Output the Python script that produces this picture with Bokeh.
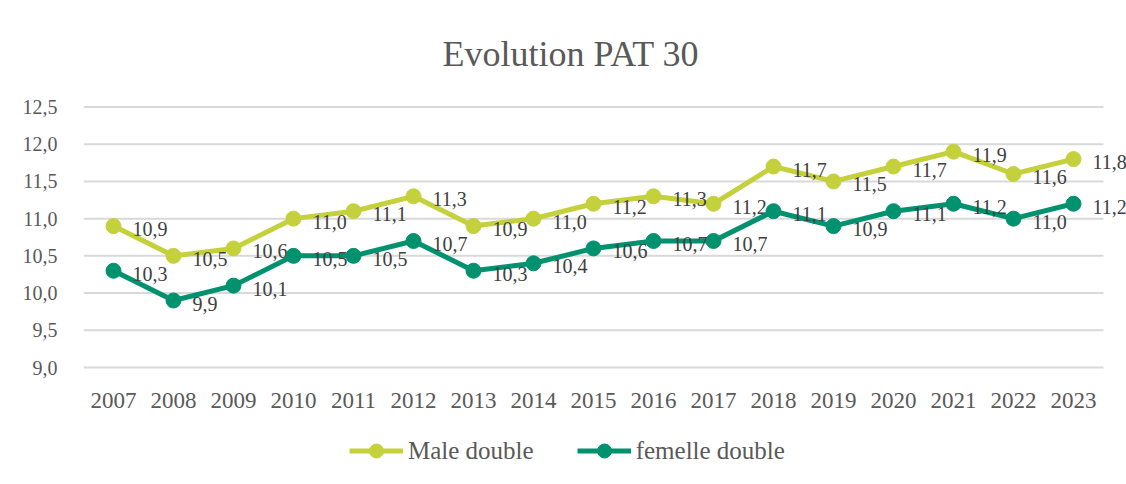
from bokeh.plotting import figure
from bokeh.models import (Range1d, FixedTicker, CustomJSTickFormatter,
                          Legend, LegendItem, ColumnDataSource)
from bokeh.core.properties import value
from bokeh.embed import file_html
from bokeh.resources import INLINE

years = ["2007", "2008", "2009", "2010", "2011", "2012", "2013", "2014", "2015",
         "2016", "2017", "2018", "2019", "2020", "2021", "2022", "2023"]
male = [10.9, 10.5, 10.6, 11.0, 11.1, 11.3, 10.9, 11.0, 11.2, 11.3, 11.2,
        11.7, 11.5, 11.7, 11.9, 11.6, 11.8]
femelle = [10.3, 9.9, 10.1, 10.5, 10.5, 10.7, 10.3, 10.4, 10.6, 10.7, 10.7,
           11.1, 10.9, 11.1, 11.2, 11.0, 11.2]
y_ticks = [9.0, 9.5, 10.0, 10.5, 11.0, 11.5, 12.0, 12.5]
series_names = ["Male double", "femelle double"]
title_text = "Evolution PAT 30"

MALE_COLOR = "#C5D13C"
FEM_COLOR = "#00926F"
TEXT_COLOR = "#595959"
LABEL_COLOR = "#404040"
GRID_COLOR = "#D9D9D9"
FONT = "Liberation Serif"

W, H = 1126, 484
LEFT, TOP = 83, 104
PX_PER_CAT = 60.0
y_lo_px, y_hi_px = 367.0, 106.5          # screen rows of first / last y tick
px_per_unit = (y_lo_px - y_hi_px) / (y_ticks[-1] - y_ticks[0])

n = len(years)
idx = list(range(n))
x_end = -0.5 + (W - LEFT) / PX_PER_CAT
y_start = y_ticks[0] - (H - y_lo_px) / px_per_unit
y_end = y_ticks[-1] + (y_hi_px - TOP) / px_per_unit

p = figure(width=W, height=H, output_backend="svg", toolbar_location=None,
           x_range=Range1d(-0.5, x_end), y_range=Range1d(y_start, y_end),
           min_border_left=LEFT, min_border_right=0, min_border_top=TOP,
           min_border_bottom=0)

p.title.text = title_text
p.title.align = "left"
p.title.offset = 359
p.title.text_font = FONT
p.title.text_font_size = "36px"
p.title.text_font_style = "normal"
p.title.text_color = TEXT_COLOR
p.title.standoff = 62

p.outline_line_color = None
p.xgrid.grid_line_color = None
p.ygrid.grid_line_color = None

# horizontal grid lines spanning the category area only
p.segment(x0=[-0.5] * len(y_ticks), x1=[n - 0.5] * len(y_ticks),
          y0=y_ticks, y1=y_ticks, line_color=GRID_COLOR, line_width=2)

p.yaxis.ticker = FixedTicker(ticks=y_ticks)
p.yaxis.formatter = CustomJSTickFormatter(code="return tick.toFixed(1).replace('.', ',');")
p.xaxis.ticker = FixedTicker(ticks=idx)
p.xaxis.major_label_overrides = {i: y for i, y in zip(idx, years)}
p.xaxis.fixed_location = y_ticks[0]
for ax in (p.xaxis[0], p.yaxis[0]):
    ax.axis_line_color = None
    ax.major_tick_line_color = None
    ax.minor_tick_line_color = None
    ax.major_label_text_font = FONT
    ax.major_label_text_color = TEXT_COLOR
p.yaxis.major_label_text_font_size = "20px"
p.xaxis.major_label_text_font_size = "23px"
p.yaxis.major_label_standoff = 20
p.xaxis.major_label_standoff = 19

items = []
for name, vals, col in ((series_names[0], male, MALE_COLOR),
                        (series_names[1], femelle, FEM_COLOR)):
    src = ColumnDataSource(dict(x=idx, y=vals,
                                lab=[f"{v:.1f}".replace(".", ",") for v in vals]))
    r1 = p.line("x", "y", source=src, line_color=col, line_width=5, line_join="round")
    r2 = p.scatter("x", "y", source=src, size=15, fill_color=col, line_color=col)
    p.text("x", "y", text="lab", source=src, x_offset=19, y_offset=3,
           text_font=value(FONT), text_font_size="20px", text_color=LABEL_COLOR,
           text_baseline="middle", text_align="left")
    items.append(LegendItem(label=name, renderers=[r1, r2]))

legend = Legend(items=items, orientation="horizontal", location=(349 - LEFT, 16),
                glyph_width=54, glyph_height=35, label_standoff=5, spacing=43,
                padding=0, margin=0, border_line_color=None,
                background_fill_alpha=0, label_text_font=FONT,
                label_text_font_size="25px", label_text_color=TEXT_COLOR)
p.add_layout(legend, "center")

open("out.html", "w").write(file_html(p, INLINE))
